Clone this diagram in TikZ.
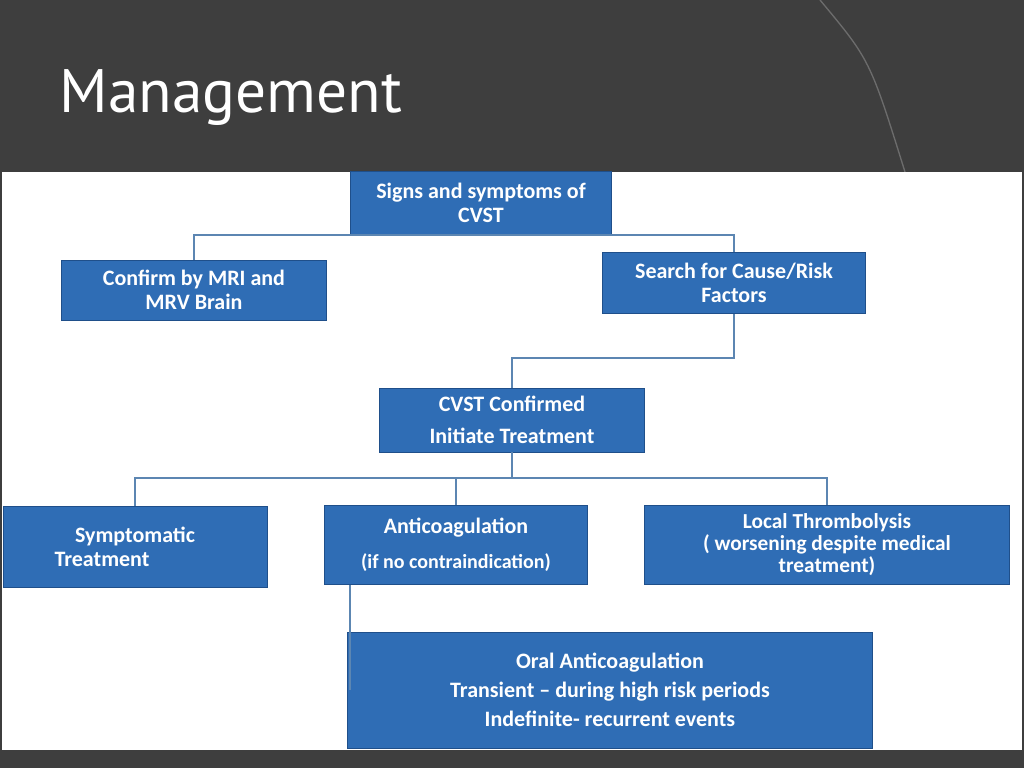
\documentclass[tikz,border=0pt]{standalone}
\usepackage{fontspec}
\setmainfont{Carlito}
\newfontfamily\titlefont{PT Sans}
\usetikzlibrary{positioning}
\definecolor{slatebg}{HTML}{3E3E3E}
\definecolor{boxblue}{HTML}{2F6DB5}
\definecolor{boxedge}{HTML}{1F4F8A}
\definecolor{linkblue}{HTML}{5C86B2}
\tikzset{
  flowbox/.style={draw=boxedge, fill=boxblue, text=white, font=\bfseries\fontsize{16.5}{18}\selectfont,
    align=center, inner sep=2pt},
  link/.style={draw=linkblue, line width=1.2pt}
}
\begin{document}
\begin{tikzpicture}[x=0.75pt, y=-0.75pt]
  \useasboundingbox (0,0) rectangle (1024,768);
  \fill[slatebg] (0,0) rectangle (1024,768);
  \draw[gray!70!slatebg, line width=1pt] (820,0) .. controls (870,60) .. (905,172);
  \node[anchor=west, text=white, font=\titlefont\fontsize{46}{50}\selectfont] (title) at (55,98) {Management};
  \fill[white] (2,172) rectangle (1022,750);

  \node[flowbox, minimum width=196pt, minimum height=47pt] (signs) at (481,203) {Signs and symptoms of\\CVST};
  \node[flowbox, minimum width=199pt, minimum height=45pt] (mri) at (194,290) {Confirm by MRI and\\MRV Brain};
  \node[flowbox, minimum width=197pt, minimum height=46pt] (cause) at (734,283) {Search for Cause/Risk\\Factors};
  \node[flowbox, minimum width=199pt, minimum height=48pt] (confirmed) at (512,420) {CVST Confirmed\\[6pt]Initiate Treatment};
  \node[flowbox, minimum width=198pt, minimum height=61pt] (sympt) at (135,547) {Symptomatic\\Treatment\hspace*{3em}};
  \node[flowbox, minimum width=197pt, minimum height=59pt] (anti) at (456,545) {Anticoagulation\\[8pt]{\fontsize{15}{17}\selectfont(if no contraindication)}};
  \node[flowbox, minimum width=274pt, minimum height=59pt, font=\bfseries\fontsize{16}{16.5}\selectfont] (local) at (827,545) {Local Thrombolysis\\( worsening despite medical\\treatment)};
  \node[flowbox, minimum width=394pt, minimum height=87pt] (oral) at (610,690) {Oral Anticoagulation\\[4pt]Transient -- during high risk periods\\[4pt]Indefinite- recurrent events};

  \draw[link] (signs.south) -- (481,235) -| (mri.north);
  \draw[link] (481,235) -| (cause.north);
  \draw[link] (cause.south) -- (734,358) -| (confirmed.north);
  \draw[link] (confirmed.south) -- (512,478) -| (sympt.north);
  \draw[link] (512,478) -| (anti.north);
  \draw[link] (512,478) -| (local.north);
  \coordinate (antifoot) at (350,585);
  \coordinate (oralside) at (350,690);
  \draw[link] (antifoot) -- (oralside);
\end{tikzpicture}
\end{document}
